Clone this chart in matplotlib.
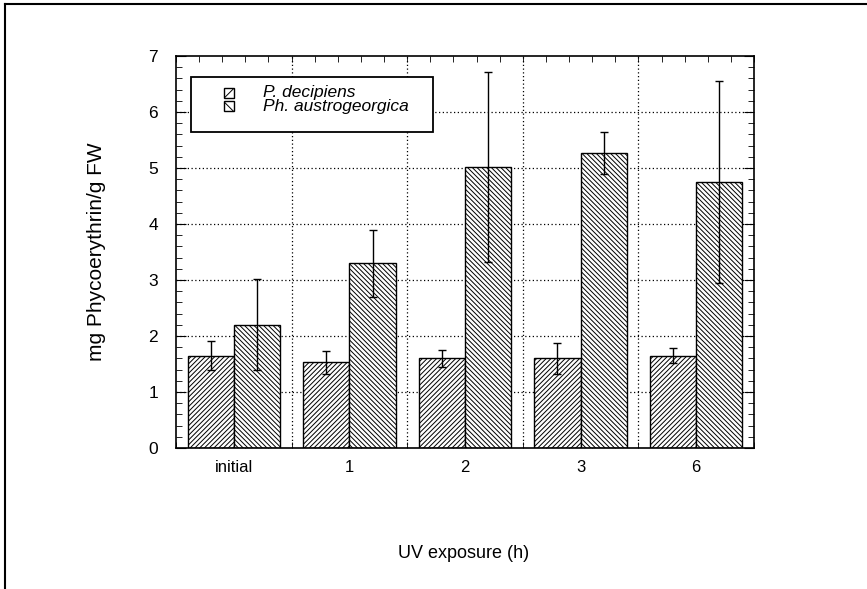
import numpy as np
import matplotlib.pyplot as plt
from matplotlib.lines import Line2D
from matplotlib.patches import Rectangle
from matplotlib.ticker import MultipleLocator

plt.rcParams['font.family'] = ['Liberation Sans', 'DejaVu Sans']
plt.rcParams['hatch.linewidth'] = 0.7

categories = ['initial', '1', '2', '3', '6']
dec_mean = [1.65, 1.53, 1.60, 1.60, 1.65]
dec_err = [0.26, 0.20, 0.15, 0.27, 0.13]
aus_mean = [2.20, 3.30, 5.02, 5.27, 4.75]
aus_err = [0.81, 0.60, 1.70, 0.37, 1.80]
species = ['P. decipiens', 'Ph. austrogeorgica']
hatches = ['/' * 7, '\\' * 7]

W, H = 867, 589


def fx(px):
    return px / W


def fy(py):
    return 1 - py / H


fig = plt.figure(figsize=(W / 100, H / 100), dpi=100)
ax = fig.add_axes([fx(176), fy(448), 578 / W, 392 / H])

x = np.arange(len(categories)) + 0.5
w = 0.4
ax.bar(x - w / 2, dec_mean, w, color='white', edgecolor='black', hatch=hatches[0],
       linewidth=1.0, zorder=2)
ax.bar(x + w / 2, aus_mean, w, color='white', edgecolor='black', hatch=hatches[1],
       linewidth=1.0, zorder=2)
ax.errorbar(x - w / 2, dec_mean, yerr=dec_err, fmt='none', ecolor='black',
            elinewidth=1.0, capsize=3, capthick=1.0, zorder=3)
ax.errorbar(x + w / 2, aus_mean, yerr=aus_err, fmt='none', ecolor='black',
            elinewidth=1.0, capsize=3, capthick=1.0, zorder=3)

ax.set_xlim(0, 5)
ax.set_ylim(0, 7)
ax.set_xticks(x)
ax.set_xticklabels(categories)
ax.xaxis.set_minor_locator(MultipleLocator(0.2))
ax.yaxis.set_major_locator(MultipleLocator(1))
ax.yaxis.set_minor_locator(MultipleLocator(0.2))
ax.tick_params(axis='both', which='both', direction='in', top=True, right=True)
ax.tick_params(axis='y', which='major', length=7, labelsize=12.5, pad=13)
ax.tick_params(axis='x', which='major', length=0, labelsize=12, pad=9)
ax.tick_params(which='minor', length=4)

for gx in [1, 2, 3, 4]:
    ax.axvline(gx, color='black', linestyle=(0, (1, 2)), linewidth=0.9, zorder=1)
for gy in range(1, 7):
    ax.axhline(gy, color='black', linestyle=(0, (1, 2)), linewidth=0.9, zorder=1)

for s in ax.spines.values():
    s.set_linewidth(1.2)

fig.text(fx(97), fy(252), 'mg Phycoerythrin/g FW', rotation=90,
         ha='center', va='center', fontsize=15)
fig.text(fx(464), fy(553), 'UV exposure (h)', ha='center', va='center', fontsize=13)

# legend drawn by hand so the box matches the original layout
fig.add_artist(Rectangle((fx(191), fy(132)), (433 - 191) / W, (132 - 77) / H,
                         transform=fig.transFigure, facecolor='white',
                         edgecolor='black', linewidth=1.3, zorder=5))
for i, h in enumerate(hatches):
    cy = 93 + 13 * i
    fig.add_artist(Rectangle((fx(224), fy(cy + 5)), 10 / W, 10 / H,
                             transform=fig.transFigure, facecolor='white',
                             edgecolor='black', hatch=h[:3], linewidth=1.0, zorder=6))
fig.text(fx(263), fy(99.5), '\n'.join(species), ha='left', va='center',
         fontsize=12.5, style='italic', linespacing=0.9, zorder=7)

# page frame (top and left edges only)
fig.add_artist(Line2D([fx(5), 1], [fy(4), fy(4)], color='black', linewidth=1.5))
fig.add_artist(Line2D([fx(5), fx(5)], [0, fy(4)], color='black', linewidth=1.5))

fig.savefig('out.png', dpi=100)
